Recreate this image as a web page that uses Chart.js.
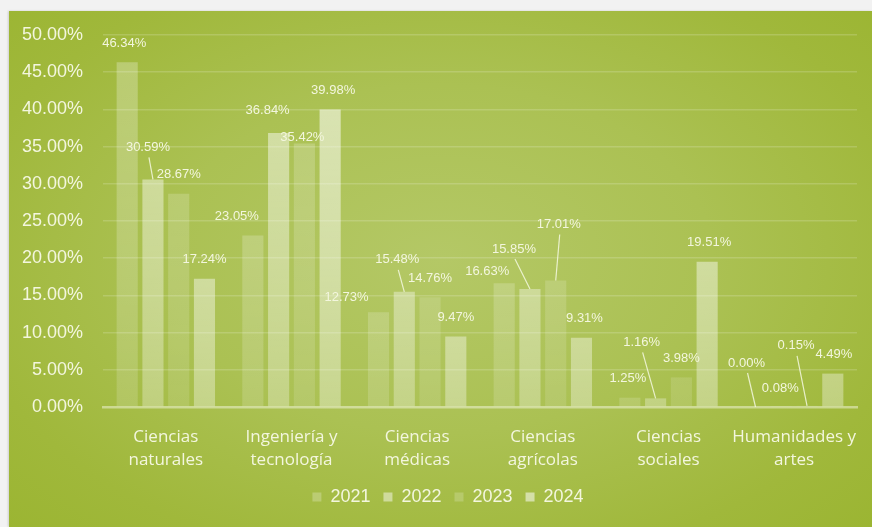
<!DOCTYPE html>
<html>
<head>
<meta charset="utf-8">
<script src="https://cdn.jsdelivr.net/npm/chart.js@4.4.1/dist/chart.umd.min.js"></script>
<style>
    html, body { margin: 0; padding: 0; background: #f2f2f2; width: 872px; height: 527px; overflow: hidden; }
    #panel {
        position: absolute; left: 9px; top: 11px; width: 863px; height: 516px;
        background: radial-gradient(ellipse 70% 75% at 50% 48%, #b4c866 0%, #abc153 45%, #a0b83b 80%, #9bb532 100%);
        box-shadow: -1px 0 2px rgba(0,0,0,0.15);
    }
    #chart { position: absolute; left: 0; top: 0; }
</style>
</head>
<body>
<div id="panel"><canvas id="chart" width="863" height="516"></canvas></div>
<script>
const categories = [
    ["Ciencias", "naturales"],
    ["Ingeniería y", "tecnología"],
    ["Ciencias", "médicas"],
    ["Ciencias", "agrícolas"],
    ["Ciencias", "sociales"],
    ["Humanidades y", "artes"]
];
const years = ["2021", "2022", "2023", "2024"];
const values2021 = [46.34, 23.05, 12.73, 16.63, 1.25, 0.00];
const values2022 = [30.59, 36.84, 15.48, 15.85, 1.16, 0.08];
const values2023 = [28.67, 35.42, 14.76, 17.01, 3.98, 0.15];
const values2024 = [17.24, 39.98, 9.47, 9.31, 19.51, 4.49];
const yTicks = [0, 5, 10, 15, 20, 25, 30, 35, 40, 45, 50];

// label nudges [dx, dy] away from the default spot above each bar
const labelShift = [
    [[-3, 0], [-16, 0], [-32, 4], [-17, 7], [-2, 0], [-9, -25]],
    [[-5, -13], [-11, -3], [-7, -13], [-16, -21], [-14, -37], [-1, 1]],
    [[0, 0], [-2, 13], [0, 0], [3, -37], [0, 0], [-11, -41]],
    [[0, 0], [3, 0], [0, 0], [3, 0], [2, 0], [1, 0]]
];

const barAlpha = [0.22, 0.42, 0.18, 0.48];
const textColor = "#f3f6de";

function barFill(alpha) {
    return function (ctx) {
        const area = ctx.chart.chartArea;
        if (!area) return `rgba(255,255,255,${alpha})`;
        const g = ctx.chart.ctx.createLinearGradient(0, area.top, 0, area.bottom);
        g.addColorStop(0, `rgba(255,255,255,${alpha * 1.25})`);
        g.addColorStop(1, `rgba(255,255,255,${alpha * 0.7})`);
        return g;
    };
}

const valueLabels = {
    id: "valueLabels",
    afterLayout(chart) {
        // nudge the legend a bit to the right
        chart.legend.left += 15;
        chart.legend.right += 15;
    },
    afterDatasetsDraw(chart) {
        const ctx = chart.ctx;
        ctx.save();
        ctx.font = "13px 'Liberation Sans', Arial, sans-serif";
        ctx.fillStyle = textColor;
        ctx.strokeStyle = "rgba(245,248,225,0.85)";
        ctx.lineWidth = 1.2;
        ctx.textAlign = "center";
        ctx.textBaseline = "middle";
        chart.data.datasets.forEach((ds, i) => {
            const meta = chart.getDatasetMeta(i);
            meta.data.forEach((bar, j) => {
                const [dx, dy] = labelShift[i][j];
                const x = bar.x + dx;
                const y = bar.y - 19 + dy;
                if (dy <= -10) {
                    ctx.beginPath();
                    ctx.moveTo(x + 1, y + 10);
                    ctx.lineTo(bar.x, bar.y);
                    ctx.stroke();
                }
                ctx.fillText(ds.data[j].toFixed(2) + "%", x, y);
            });
        });
        ctx.restore();
    }
};

const seriesValues = [values2021, values2022, values2023, values2024];

new Chart(document.getElementById("chart"), {
    type: "bar",
    data: {
        labels: categories,
        datasets: years.map((y, i) => ({
            label: y,
            data: seriesValues[i],
            backgroundColor: barFill(barAlpha[i]),
            borderWidth: 0,
            barPercentage: 0.82,
            categoryPercentage: 0.82
        }))
    },
    options: {
        responsive: false,
        animation: false,
        layout: { padding: { left: 0, right: 15, top: 24, bottom: 11 } },
        scales: {
            x: {
                grid: { display: false },
                border: { display: true, color: "rgba(245,248,225,0.5)", width: 2.5 },
                ticks: {
                    color: textColor,
                    padding: 11,
                    maxRotation: 0,
                    autoSkip: false,
                    font: { family: "'Open Sans', sans-serif", size: 17, lineHeight: 1.35 }
                },
                afterFit(scale) { scale.height = 68; }
            },
            y: {
                min: 0,
                max: 50,
                border: { display: false },
                grid: {
                    drawTicks: true,
                    tickLength: 16,
                    tickColor: "rgba(0,0,0,0)",
                    lineWidth: 1.5,
                    color: (c) => c.tick && c.tick.value === 0 ? "rgba(0,0,0,0)" : "rgba(255,255,255,0.17)"
                },
                afterBuildTicks(scale) { scale.ticks = yTicks.map(v => ({ value: v })); },
                ticks: {
                    color: textColor,
                    padding: 4,
                    font: { family: "'Liberation Sans', Arial, sans-serif", size: 18 },
                    callback: (v) => v.toFixed(2) + "%"
                },
                afterFit(scale) { scale.width = 94; }
            }
        },
        plugins: {
            legend: {
                position: "bottom",
                labels: {
                    color: textColor,
                    boxWidth: 9,
                    boxHeight: 9,
                    padding: 13,
                    font: { family: "'Liberation Sans', Arial, sans-serif", size: 18 },
                    generateLabels(chart) {
                        return chart.data.datasets.map((ds, i) => ({
                            text: ds.label,
                            fillStyle: `rgba(255,255,255,${barAlpha[i] * 1.1})`,
                            strokeStyle: "rgba(0,0,0,0)",
                            lineWidth: 0,
                            fontColor: textColor,
                            datasetIndex: i
                        }));
                    }
                }
            },
            tooltip: { enabled: false }
        }
    },
    plugins: [valueLabels]
});
</script>
</body>
</html>
